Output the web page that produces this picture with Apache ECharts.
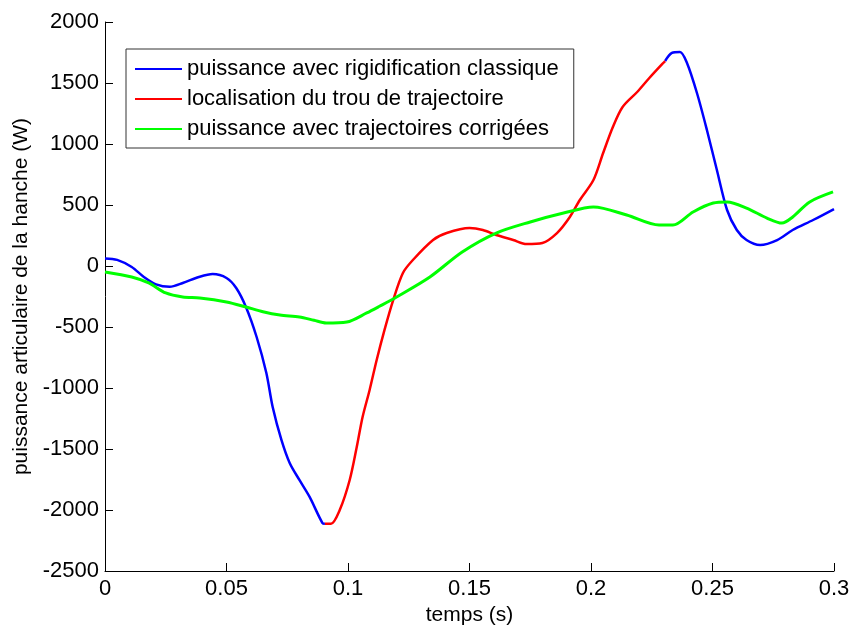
<!DOCTYPE html>
<html>
<head>
<meta charset="utf-8">
<script src="https://cdn.jsdelivr.net/npm/echarts@6/dist/echarts.min.js"></script>
<style>html,body{margin:0;padding:0;background:#fff}#c{width:853px;height:630px}</style>
</head>
<body>
<div id="c"></div>
<script>
var seriesNames = ['puissance avec rigidification classique', 'localisation du trou de trajectoire', 'puissance avec trajectoires corrigées'];
var xTicks = [0, 0.05, 0.1, 0.15, 0.2, 0.25, 0.3];
var yTicks = [-2500, -2000, -1500, -1000, -500, 0, 500, 1000, 1500, 2000];

var blueT1 = [0, 0.005, 0.011, 0.016, 0.021, 0.0266, 0.032, 0.039, 0.0443, 0.050, 0.054, 0.058, 0.0624, 0.0664, 0.069, 0.0726, 0.076, 0.080, 0.0842, 0.0895, 0.0905];
var blueP1 = [62, 50, -8, -90, -150, -170, -139, -88, -66, -98, -180, -336, -582, -877, -1156, -1426, -1615, -1754, -1893, -2107, -2112];
var blueT2 = [0.2305, 0.2333, 0.2366, 0.2395, 0.2436, 0.2477, 0.2518, 0.256, 0.260, 0.264, 0.2696, 0.2766, 0.283, 0.2914, 0.3];
var blueP2 = [1680, 1746, 1754, 1664, 1418, 1115, 787, 459, 295, 213, 172, 213, 295, 377, 467];

var redT = [0.0905, 0.093, 0.0966, 0.1007, 0.1036, 0.106, 0.1089, 0.1118, 0.115, 0.1186, 0.1226, 0.1267, 0.135, 0.1406, 0.150, 0.1555, 0.161, 0.168, 0.1735, 0.180, 0.186, 0.1913, 0.1954, 0.201, 0.205, 0.209, 0.213, 0.219, 0.224, 0.2297, 0.2305];
var redP = [-2112, -2112, -2000, -1754, -1484, -1238, -1016, -770, -525, -279, -57, 49, 213, 270, 311, 295, 254, 213, 180, 189, 270, 402, 541, 705, 926, 1139, 1303, 1426, 1541, 1664, 1680];

var greenT = [0, 0.011, 0.018, 0.025, 0.032, 0.039, 0.050, 0.058, 0.065, 0.072, 0.080, 0.086, 0.091, 0.0995, 0.1077, 0.113, 0.120, 0.1337, 0.147, 0.161, 0.175, 0.1887, 0.201, 0.2147, 0.228, 0.2337, 0.242, 0.2503, 0.256, 0.264, 0.2724, 0.2786, 0.283, 0.290, 0.2996];
var greenP = [-49, -90, -139, -221, -254, -262, -295, -336, -375, -402, -418, -445, -467, -459, -385, -330, -254, -90, 115, 270, 361, 434, 484, 418, 336, 336, 443, 516, 525, 475, 393, 352, 402, 525, 607];

function pairs(t, p) { return t.map(function (x, i) { return [x, p[i]]; }); }
var blueData = pairs(blueT1, blueP1).concat([[0.16, '-']]).concat(pairs(blueT2, blueP2));

var FONT = 'Liberation Sans, Arial, sans-serif';
var chart = echarts.init(document.getElementById('c'));
chart.setOption({
  backgroundColor: '#fff',
  animation: false,
  grid: { left: 105, right: 19, top: 22, bottom: 59, containLabel: false, outerBoundsMode: 'none' },
  legend: {
    orient: 'vertical',
    left: 126, top: 49,
    padding: [9, 15, 8, 9],
    itemWidth: 47, itemHeight: 14, itemGap: 8,
    borderColor: '#333', borderWidth: 1, backgroundColor: '#fff',
    textStyle: { fontFamily: FONT, fontSize: 22, color: '#000', lineHeight: 22 },
    data: seriesNames.map(function (n) { return { name: n, icon: 'path://M0,0L47,0L47,2L0,2Z' }; })
  },
  xAxis: {
    type: 'value', min: 0, max: 0.3, interval: 0.05,
    name: 'temps (s)', nameLocation: 'middle', nameGap: 33,
    nameTextStyle: { fontFamily: FONT, fontSize: 21, color: '#000' },
    axisLine: { onZero: false, lineStyle: { color: '#000', width: 1 } },
    axisTick: { inside: true, length: 8, lineStyle: { color: '#000' } },
    axisLabel: { fontFamily: FONT, fontSize: 22, color: '#000', margin: 7,
      formatter: function (v) { return String(parseFloat(v.toFixed(2))); } },
    splitLine: { show: false }
  },
  yAxis: {
    type: 'value', min: -2500, max: 2000, interval: 500,
    name: 'puissance articulaire de la hanche (W)', nameLocation: 'middle', nameGap: 73,
    nameTextStyle: { fontFamily: FONT, fontSize: 21, color: '#000' },
    axisLine: { show: true, onZero: false, lineStyle: { color: '#000', width: 1 } },
    axisTick: { show: true, inside: true, length: 8, lineStyle: { color: '#000' } },
    axisLabel: { fontFamily: FONT, fontSize: 22, color: '#000', margin: 6,
      formatter: function (v) { return String(v); } },
    splitLine: { show: false }
  },
  series: [
    { name: seriesNames[0], type: 'line', data: blueData, symbol: 'none', smooth: 0.3, connectNulls: false,
      lineStyle: { color: '#0000ff', width: 2.5 }, itemStyle: { color: '#0000ff' } },
    { name: seriesNames[1], type: 'line', data: pairs(redT, redP), symbol: 'none', smooth: 0.3,
      lineStyle: { color: '#ff0000', width: 2.5 }, itemStyle: { color: '#ff0000' } },
    { name: seriesNames[2], type: 'line', data: pairs(greenT, greenP), symbol: 'none', smooth: 0.3,
      lineStyle: { color: '#00ff00', width: 3 }, itemStyle: { color: '#00ff00' } }
  ]
});
</script>
</body>
</html>
